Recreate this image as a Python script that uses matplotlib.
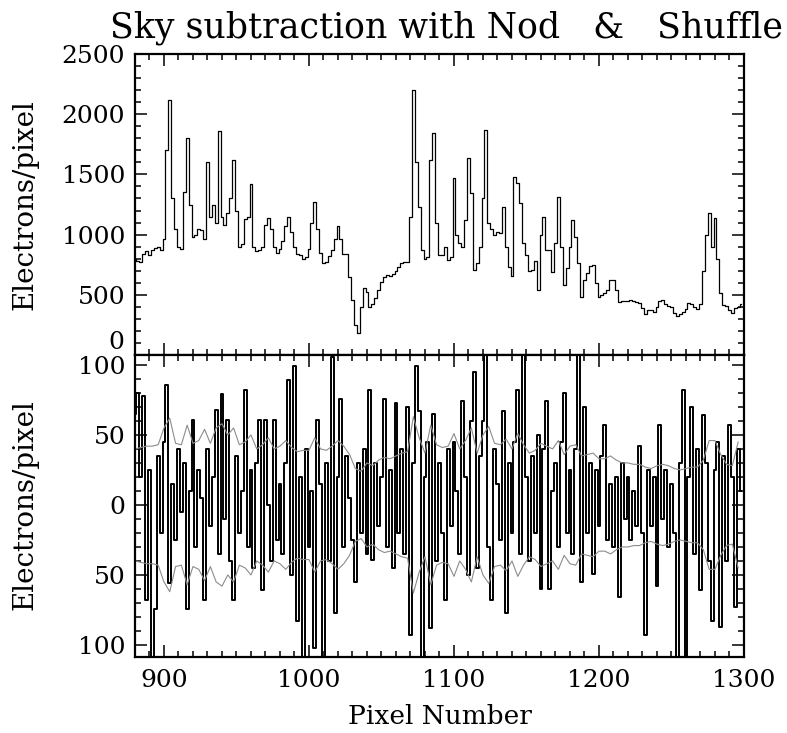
import numpy as np
import matplotlib
matplotlib.use("Agg")
import matplotlib.pyplot as plt
from matplotlib.ticker import MultipleLocator, FixedLocator, FixedFormatter
import matplotlib.transforms as mtransforms

plt.rcParams['font.family'] = ['DejaVu Serif']

# Pixel positions (2 pixel bins)
pixel = np.arange(880, 1300, 2)

# Sky spectrum (electrons/pixel)
sky = [
    800, 780, 770, 840, 860, 830, 870, 890, 900, 870,
    960, 1700, 2118, 1300, 1050, 900, 880, 1350, 1800, 1250,
    980, 1000, 1050, 1040, 960, 1600, 1150, 1250, 1100, 1860,
    1150, 1080, 1180, 1300, 1620, 1200, 900, 920, 1130, 1150,
    1420, 900, 860, 870, 900, 1080, 1140, 1050, 900, 850,
    880, 950, 1070, 1150, 1020, 900, 840, 830, 800, 810,
    880, 1100, 1270, 1050, 850, 760, 770, 820, 870, 960,
    1071, 960, 835, 840, 650, 460, 250, 180, 400, 554,
    520, 400, 420, 470, 540, 610, 650, 665, 660, 670,
    700, 734, 762, 776, 770, 1150, 2200, 1600, 1232, 872,
    800, 817, 1620, 1842, 1094, 830, 831, 900, 789, 817,
    1467, 1000, 928, 900, 1121, 1633, 1342, 706, 762, 900,
    1300, 1869, 1094, 1050, 1000, 1025, 1011, 1232, 900, 734,
    660, 1481, 1425, 1259, 928, 830, 700, 706, 780, 540,
    1000, 1149, 872, 870, 692, 928, 1315, 900, 582, 720,
    900, 1121, 983, 762, 485, 623, 679, 740, 748, 596,
    485, 499, 513, 540, 623, 620, 540, 443, 450, 450,
    445, 457, 450, 443, 429, 388, 340, 370, 375, 360,
    400, 450, 457, 420, 410, 400, 346, 320, 340, 355,
    380, 429, 420, 395, 380, 420, 700, 1000, 1177, 900,
    1135, 800, 513, 415, 405, 370, 346, 390, 400, 420,
]

# Residuals after Nod & Shuffle subtraction, bottom panel
resid = [
    65, 80, 20, 78, -68, 25, -110, -74, 35, -20,
    45, 86, -56, 15, -25, 40, -5, 30, -74, 10,
    61, -30, 25, 5, -68, 40, -15, 20, 68, -35,
    79, -10, 61, -40, -68, 35, -20, 10, 82, -30,
    25, -45, 30, 61, -61, 61, 0, -40, 61, -25,
    15, -35, 30, 89, -50, 99, -83, 20, -110, 40,
    -30, 10, -102, 61, 15, -110, 30, -40, 106, -77,
    20, 76, -30, 35, 5, -25, -55, 30, -20, 40,
    -35, 82, -39, 30, -15, 20, 76, -30, 25, -45,
    73, -20, 40, -35, 70, -93, 30, 99, 67, -110,
    20, 45, -88, 65, -40, 30, -20, -68, 40, -15,
    45, 10, -35, 74, 20, -50, 60, 95, -45, 35,
    60, 110, -30, -68, 40, 15, -25, 67, -77, 30,
    -20, 45, 82, -35, 110, 20, -40, 35, -20, 50,
    -60, 40, 74, -60, 10, 30, -30, 45, 80, -20,
    25, -35, 40, 110, -55, 70, -20, 30, -49, 25,
    -15, 35, 57, -25, 15, -30, 20, -66, 30, -10,
    20, -25, 10, -15, 42, -20, -93, 25, -15, 20,
    -58, 57, -10, 25, -30, 15, -20, -110, 30, 82,
    -110, 20, 70, -35, 40, -61, 64, 30, -40, -83,
    25, 45, -87, 35, -40, 57, 20, -73, 40, 10,
]

# Expected noise level (gray envelope), 4 pixel spacing
pixel_noise = np.arange(880, 1300, 4)
noise = [
    40, 41, 42, 42, 43, 55, 62, 44, 43, 57,
    44, 46, 54, 44, 55, 58, 50, 55, 43, 45,
    50, 40, 43, 48, 40, 42, 46, 41, 38, 39,
    39, 48, 40, 39, 42, 46, 42, 36, 26, 24,
    30, 28, 32, 34, 33, 35, 37, 38, 63, 48,
    37, 57, 43, 41, 42, 51, 40, 46, 55, 37,
    50, 56, 44, 43, 47, 40, 51, 43, 37, 39,
    44, 42, 40, 46, 36, 42, 43, 35, 36, 37,
    33, 33, 35, 32, 30, 30, 29, 29, 27, 26,
    28, 29, 28, 26, 25, 26, 27, 27, 32, 46,
    46, 36, 29, 28, 45,
]

fig = plt.figure(figsize=(7.87, 7.33), dpi=100)
ax1 = fig.add_axes([0.1715, 0.5157, 0.7738, 0.4106])
ax2 = fig.add_axes([0.1715, 0.1037, 0.7738, 0.4120])

fs = 18

# Top panel: sky
ax1.step(pixel, sky, where='mid', color='black', lw=0.9)
ax1.set_ylim(0, 2500)
ax1.yaxis.set_major_locator(FixedLocator([0, 500, 1000, 1500, 2000, 2500]))
ax1.yaxis.set_major_formatter(FixedFormatter(['', '500', '1000', '1500', '2000', '2500']))
ax1.yaxis.set_minor_locator(MultipleLocator(100))
ax1.tick_params(labelbottom=False)
# the "0" label sits higher so it clears the lower panel's "100"
off = mtransforms.ScaledTranslation(0, 9 / 72, fig.dpi_scale_trans)
ax1.text(-0.017, 0, '0', transform=ax1.get_yaxis_transform() + off,
         ha='right', va='center', fontsize=fs)

# Bottom panel: residuals with noise envelope
ax2.step(pixel, resid, where='mid', color='black', lw=1.4)
ax2.plot(pixel_noise, noise, color='0.55', lw=0.8)
ax2.plot(pixel_noise, -np.array(noise), color='0.55', lw=0.8)
ax2.set_ylim(-108.6, 107.1)
ax2.yaxis.set_major_locator(FixedLocator([-100, -50, 0, 50, 100]))
ax2.yaxis.set_major_formatter(FixedFormatter(['100', '50', '0', '50', '100']))
ax2.yaxis.set_minor_locator(MultipleLocator(10))

for ax in (ax1, ax2):
    ax.set_xlim(880, 1300)
    ax.xaxis.set_major_locator(MultipleLocator(100))
    ax.xaxis.set_minor_locator(MultipleLocator(10))
    ax.tick_params(which='both', direction='in', top=True, right=True,
                   labelsize=fs, width=1.1, pad=7)
    ax.tick_params(which='major', length=8.5)
    ax.tick_params(which='minor', length=4.5)
    for s in ax.spines.values():
        s.set_linewidth(1.6)

ax2.tick_params(axis='x', pad=9)

fig.text(446 / 787, 1 - 28 / 733, 'Sky subtraction with Nod   &   Shuffle',
         ha='center', va='center', fontsize=25)
fig.text(440 / 787, 1 - 717 / 733, 'Pixel Number', ha='center', va='center', fontsize=19)
fig.text(25 / 787, 1 - 205 / 733, 'Electrons/pixel', rotation=90,
         ha='center', va='center', fontsize=20)
fig.text(25 / 787, 1 - 505 / 733, 'Electrons/pixel', rotation=90,
         ha='center', va='center', fontsize=20)

plt.savefig('out.png', dpi=100)
